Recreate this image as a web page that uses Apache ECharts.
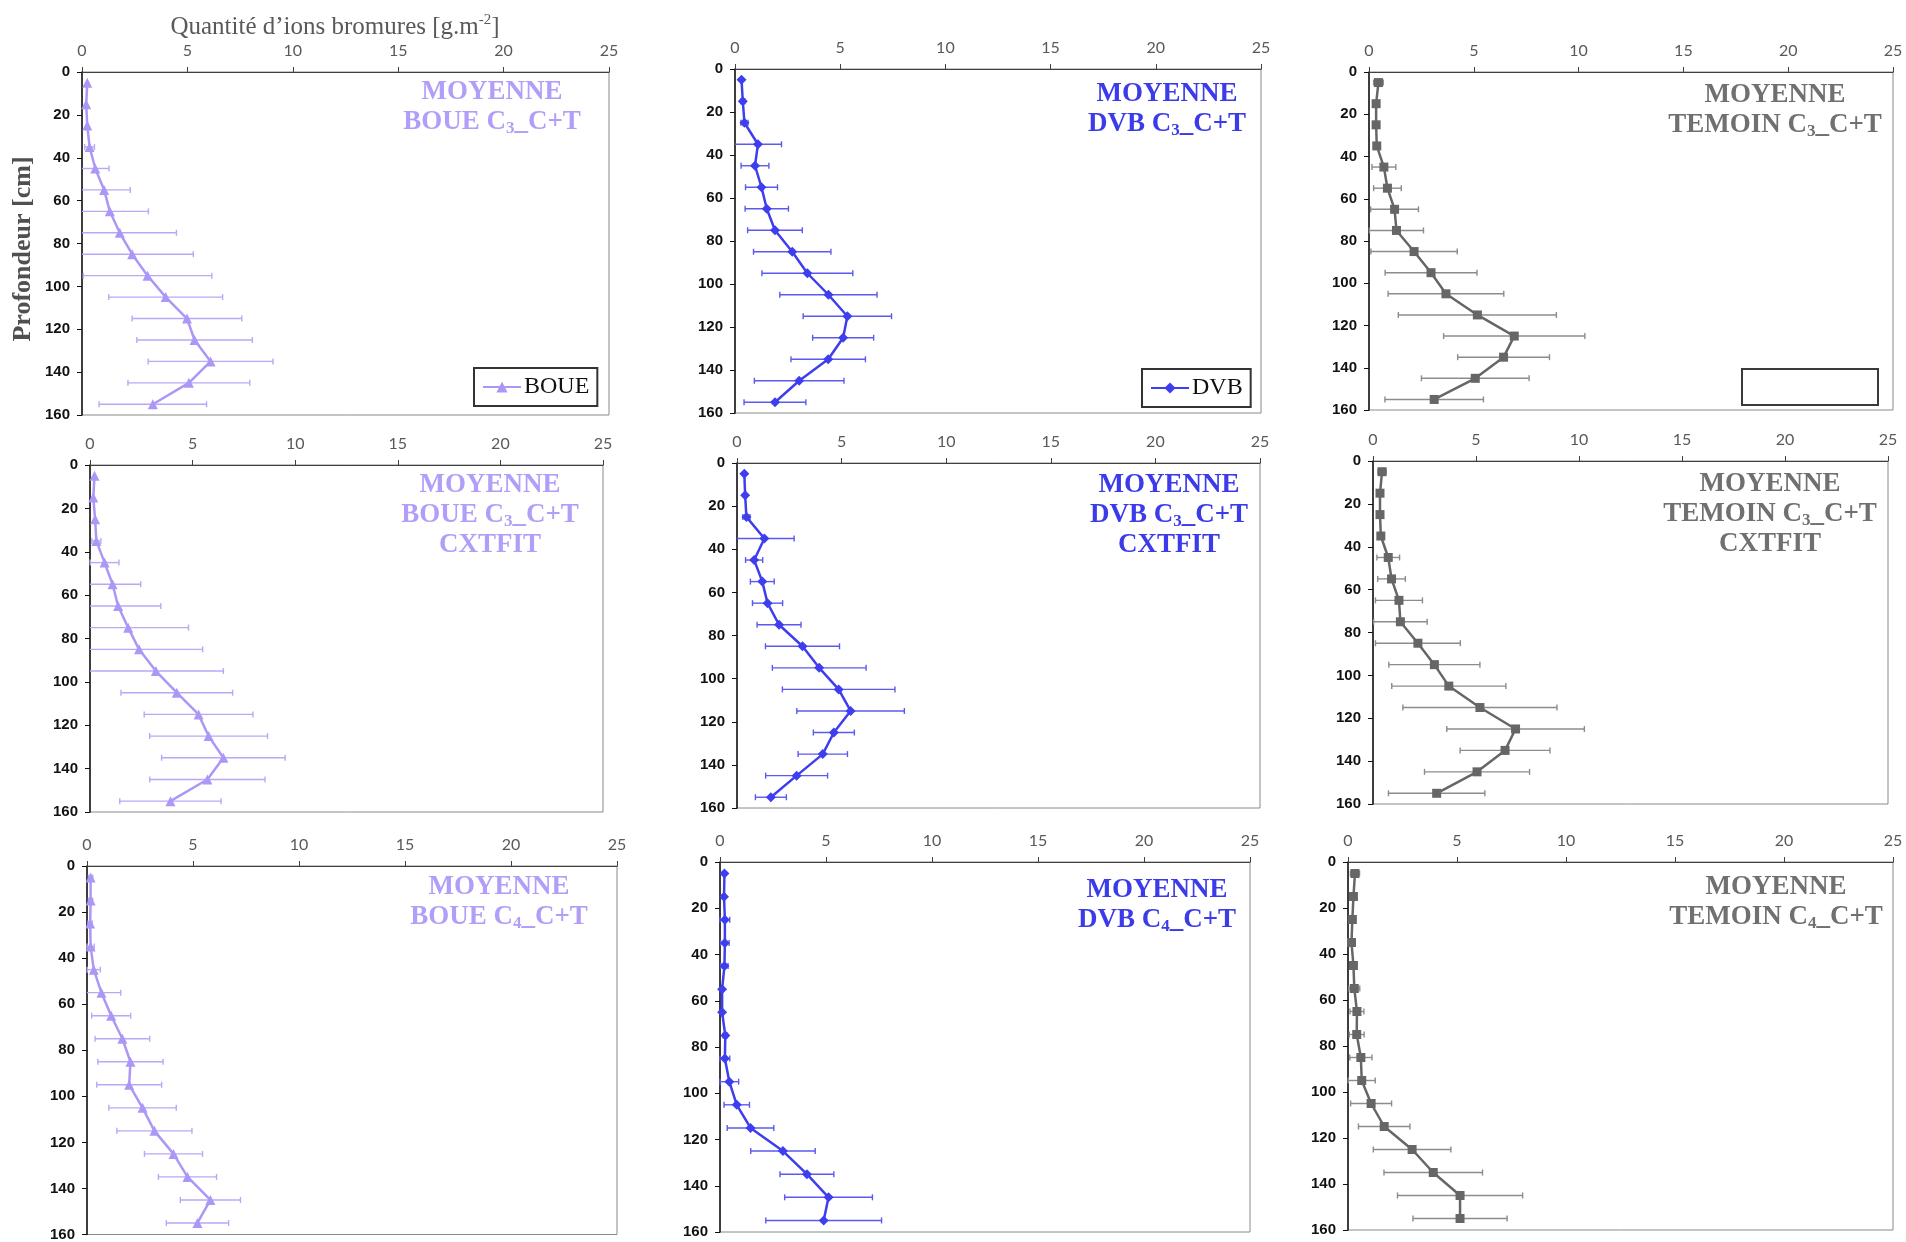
<!DOCTYPE html>
<html>
<head>
<meta charset="utf-8">
<script src="https://cdn.jsdelivr.net/npm/echarts@6/dist/echarts.min.js"></script>
<style>
html,body{margin:0;padding:0;background:#fff;}
#chart{width:1906px;height:1242px;}
</style>
</head>
<body>
<div id="chart"></div>
<script>
// ---- DATA ----
const depths = [5, 15, 25, 35, 45, 55, 65, 75, 85, 95, 105, 115, 125, 135, 145, 155];
const xTicks = [0, 5, 10, 15, 20, 25];
const yTicks = [0, 20, 40, 60, 80, 100, 120, 140, 160];

const boueC3Mean = [0.25, 0.2, 0.25, 0.36, 0.63, 1.05, 1.32, 1.79, 2.38, 3.11, 3.97, 4.98, 5.34, 6.10, 5.07, 3.36];
const boueC3Err  = [0, 0, 0, 0.23, 0.65, 1.24, 1.83, 2.69, 2.9, 3.05, 2.7, 2.6, 2.74, 2.96, 2.89, 2.55];

const dvbC3Mean = [0.31, 0.37, 0.45, 1.09, 0.95, 1.26, 1.51, 1.9, 2.72, 3.44, 4.44, 5.34, 5.14, 4.43, 3.05, 1.9];
const dvbC3Err  = [0, 0.1, 0.17, 1.12, 0.66, 0.76, 1.03, 1.3, 1.84, 2.16, 2.31, 2.1, 1.45, 1.77, 2.13, 1.47];

const temoinC3Mean = [0.45, 0.34, 0.34, 0.37, 0.71, 0.88, 1.22, 1.31, 2.15, 2.96, 3.67, 5.17, 6.93, 6.42, 5.07, 3.11];
const temoinC3Err  = [0.23, 0, 0, 0, 0.57, 0.66, 1.14, 1.29, 2.06, 2.19, 2.76, 3.77, 3.37, 2.19, 2.57, 2.35];

const boueC3CxMean = [0.22, 0.16, 0.25, 0.31, 0.71, 1.1, 1.37, 1.86, 2.39, 3.21, 4.23, 5.29, 5.78, 6.5, 5.72, 3.92];
const boueC3CxErr  = [0, 0, 0, 0.22, 0.70, 1.37, 2.08, 2.94, 3.1, 3.29, 2.72, 2.65, 2.87, 3.01, 2.81, 2.47];

const dvbC3CxMean = [0.35, 0.39, 0.45, 1.31, 0.82, 1.21, 1.46, 2.01, 3.13, 3.93, 4.86, 5.43, 4.63, 4.1, 2.85, 1.62];
const dvbC3CxErr  = [0, 0.05, 0.17, 1.42, 0.41, 0.57, 0.72, 1.05, 1.77, 2.24, 2.69, 2.57, 0.98, 1.18, 1.48, 0.74];

const temoinC3CxMean = [0.44, 0.34, 0.34, 0.38, 0.74, 0.9, 1.26, 1.33, 2.18, 2.98, 3.68, 5.19, 6.92, 6.41, 5.05, 3.09];
const temoinC3CxErr  = [0.2, 0, 0, 0, 0.55, 0.67, 1.14, 1.3, 2.06, 2.21, 2.77, 3.74, 3.34, 2.18, 2.55, 2.34];

const boueC4Mean = [0.17, 0.17, 0.15, 0.17, 0.32, 0.68, 1.14, 1.67, 2.05, 1.99, 2.62, 3.18, 4.08, 4.74, 5.82, 5.21];
const boueC4Err  = [0.1, 0.1, 0.1, 0.17, 0.31, 0.91, 0.92, 1.29, 1.54, 1.53, 1.59, 1.77, 1.37, 1.37, 1.42, 1.47];

const dvbC4Mean = [0.21, 0.19, 0.23, 0.23, 0.21, 0.1, 0.1, 0.25, 0.23, 0.44, 0.79, 1.44, 2.97, 4.1, 5.12, 4.89];
const dvbC4Err  = [0, 0, 0.23, 0.2, 0.17, 0.05, 0.05, 0.1, 0.23, 0.44, 0.6, 1.1, 1.52, 1.27, 2.07, 2.73];

const temoinC4Mean = [0.32, 0.25, 0.2, 0.16, 0.25, 0.29, 0.41, 0.4, 0.59, 0.63, 1.06, 1.66, 2.94, 3.91, 5.14, 5.14];
const temoinC4Err  = [0.21, 0, 0, 0.1, 0, 0.25, 0.32, 0.34, 0.51, 0.62, 0.94, 1.18, 1.78, 2.26, 2.87, 2.16];

const axisTitle = 'Quantité d’ions bromures [g.m';
const axisTitleSup = '-2';
const depthTitle = 'Profondeur [cm]';

// ---- STYLES ----
const kinds = {
  boue:   {line: '#AD97F6', err: '#B9A8F8', title: '#B29EF8', symbol: 'triangle', size: 10, label: 'BOUE'},
  dvb:    {line: '#3E3EEE', err: '#5A5AF0', title: '#3B3BEA', symbol: 'diamond', size: 10, label: 'DVB'},
  temoin: {line: '#666666', err: '#8C8C8C', title: '#707070', symbol: 'rect', size: 9, label: 'TEMOIN'}
};

// ---- PANELS (layout) ----
const panels = [
  {g: [82, 72, 527, 343],   mean: boueC3Mean,     err: boueC3Err,     kind: 'boue',   sub: '3', cx: false, tx: 492,  ty: 77,  name: 'BOUE'},
  {g: [735, 69, 526, 344],  mean: dvbC3Mean,      err: dvbC3Err,      kind: 'dvb',    sub: '3', cx: false, tx: 1167, ty: 79,  name: 'DVB'},
  {g: [1369, 72, 524, 338], mean: temoinC3Mean,   err: temoinC3Err,   kind: 'temoin', sub: '3', cx: false, tx: 1775, ty: 80,  name: 'TEMOIN'},
  {g: [90, 465, 513, 347],  mean: boueC3CxMean,   err: boueC3CxErr,   kind: 'boue',   sub: '3', cx: true,  tx: 490,  ty: 470, name: 'BOUE CXTFIT'},
  {g: [737, 463, 523, 345], mean: dvbC3CxMean,    err: dvbC3CxErr,    kind: 'dvb',    sub: '3', cx: true,  tx: 1169, ty: 470, name: 'DVB CXTFIT'},
  {g: [1373, 461, 515, 343],mean: temoinC3CxMean, err: temoinC3CxErr, kind: 'temoin', sub: '3', cx: true,  tx: 1770, ty: 469, name: 'TEMOIN CXTFIT'},
  {g: [87, 866, 530, 369],  mean: boueC4Mean,     err: boueC4Err,     kind: 'boue',   sub: '4', cx: false, tx: 499,  ty: 872, name: 'BOUE C4'},
  {g: [720, 862, 530, 370], mean: dvbC4Mean,      err: dvbC4Err,      kind: 'dvb',    sub: '4', cx: false, tx: 1157, ty: 875, name: 'DVB C4'},
  {g: [1348, 862, 545, 368],mean: temoinC4Mean,   err: temoinC4Err,   kind: 'temoin', sub: '4', cx: false, tx: 1776, ty: 872, name: 'TEMOIN C4'}
];

const grids = [], xAxes = [], yAxes = [], series = [], titles = [];

function errRender(params, api) {
  const m = api.value(0), d = api.value(1), e = api.value(2);
  if (!e) return null;
  const lo = Math.max(0, m - e), hi = m + e;
  const p1 = api.coord([lo, d]), p2 = api.coord([hi, d]);
  const st = api.style({stroke: api.visual('color'), lineWidth: 1.4, fill: null});
  const children = [
    {type: 'line', shape: {x1: p1[0], y1: p1[1], x2: p2[0], y2: p2[1]}, style: st},
    {type: 'line', shape: {x1: p2[0], y1: p2[1] - 3, x2: p2[0], y2: p2[1] + 3}, style: st}
  ];
  if (m - e >= 0) children.push({type: 'line', shape: {x1: p1[0], y1: p1[1] - 3, x2: p1[0], y2: p1[1] + 3}, style: st});
  return {type: 'group', children: children};
}

panels.forEach((p, i) => {
  const k = kinds[p.kind];
  grids.push({left: p.g[0], top: p.g[1], width: p.g[2], height: p.g[3], show: true,
    borderColor: '#8a8a8a', borderWidth: 1, backgroundColor: 'transparent', containLabel: false});
  xAxes.push({type: 'value', gridIndex: i, position: 'top', min: xTicks[0], max: xTicks[xTicks.length - 1], interval: 5,
    splitLine: {show: false},
    axisLine: {show: true, onZero: false, lineStyle: {color: '#404040', width: 1.2}},
    axisTick: {show: true, inside: false, length: 5, lineStyle: {color: '#404040'}},
    axisLabel: {color: '#595959', fontFamily: 'Lato, "Open Sans", sans-serif', fontSize: 16, margin: 13}});
  yAxes.push({type: 'value', gridIndex: i, inverse: true, min: yTicks[0], max: yTicks[yTicks.length - 1], interval: 20,
    splitLine: {show: false},
    axisLine: {show: true, onZero: false, lineStyle: {color: '#111', width: 1.5}},
    axisTick: {show: true, length: 5, lineStyle: {color: '#111'}},
    axisLabel: {color: '#111', fontFamily: '"Liberation Sans", Arial, sans-serif', fontWeight: 'bold', fontSize: 15, margin: 12}});
  series.push({type: 'custom', name: p.name + ' err', xAxisIndex: i, yAxisIndex: i, z: 1,
    renderItem: errRender, itemStyle: {color: k.err}, encode: {x: 0, y: 1},
    data: p.mean.map((m, j) => [m, depths[j], p.err[j]])});
  series.push({type: 'line', name: p.name, xAxisIndex: i, yAxisIndex: i, z: 3,
    symbol: k.symbol, symbolSize: k.size, color: k.line,
    lineStyle: {color: k.line, width: 2.5}, itemStyle: {color: k.line},
    data: p.mean.map((m, j) => [m, depths[j]])});
  let txt = '{m|MOYENNE}\n{m|' + k.label + ' C}{s|' + p.sub + '}{m|_C+T}';
  if (p.cx) txt += '\n{m|CXTFIT}';
  titles.push({text: txt, left: p.tx, top: p.ty, textAlign: 'center', padding: 0,
    textStyle: {rich: {
      m: {fontFamily: '"Liberation Serif", "Times New Roman", serif', fontWeight: 'bold', fontSize: 27, lineHeight: 30, color: k.title},
      s: {fontFamily: '"Liberation Serif", "Times New Roman", serif', fontWeight: 'bold', fontSize: 17, lineHeight: 10, verticalAlign: 'bottom', color: k.title}
    }}});
});

titles.push({text: '{t|' + axisTitle + '}{u|' + axisTitleSup + '}{t|]}', left: 335, top: 13, textAlign: 'center', padding: 0,
  textStyle: {fontWeight: 'normal', rich: {
    t: {fontFamily: '"Liberation Serif", "Times New Roman", serif', fontWeight: 'normal', fontSize: 25, lineHeight: 28, color: '#595959'},
    u: {fontFamily: '"Liberation Serif", "Times New Roman", serif', fontWeight: 'normal', fontSize: 15, lineHeight: 12, verticalAlign: 'top', color: '#595959'}
  }}});

const legendCommon = {orient: 'horizontal', borderColor: '#333', borderWidth: 2, backgroundColor: '#fff',
  padding: [7, 8, 7, 8], itemWidth: 38, itemHeight: 14, itemGap: 4,
  textStyle: {fontFamily: '"Liberation Serif", "Times New Roman", serif', fontSize: 24, color: '#111', padding: [0, 0, 0, -2]}};

const option = {
  animation: false,
  backgroundColor: '#fff',
  title: titles,
  grid: grids,
  xAxis: xAxes,
  yAxis: yAxes,
  legend: [
    Object.assign({left: 474, top: 368, data: ['BOUE']}, legendCommon),
    Object.assign({left: 1142, top: 369, data: ['DVB']}, legendCommon)
  ],
  graphic: [
    {type: 'text', x: 23, y: 249, rotation: Math.PI / 2,
      style: {text: depthTitle, fill: '#505050', font: 'bold 26px "Liberation Serif", "Times New Roman", serif',
        align: 'center', verticalAlign: 'middle'}},
    {type: 'rect', shape: {x: 1742, y: 369, width: 136, height: 36},
      style: {fill: '#fff', stroke: '#3a3a3a', lineWidth: 2}, z: 10}
  ],
  series: series
};

const chart = echarts.init(document.getElementById('chart'), null, {renderer: 'canvas'});
chart.setOption(option);
</script>
</body>
</html>
